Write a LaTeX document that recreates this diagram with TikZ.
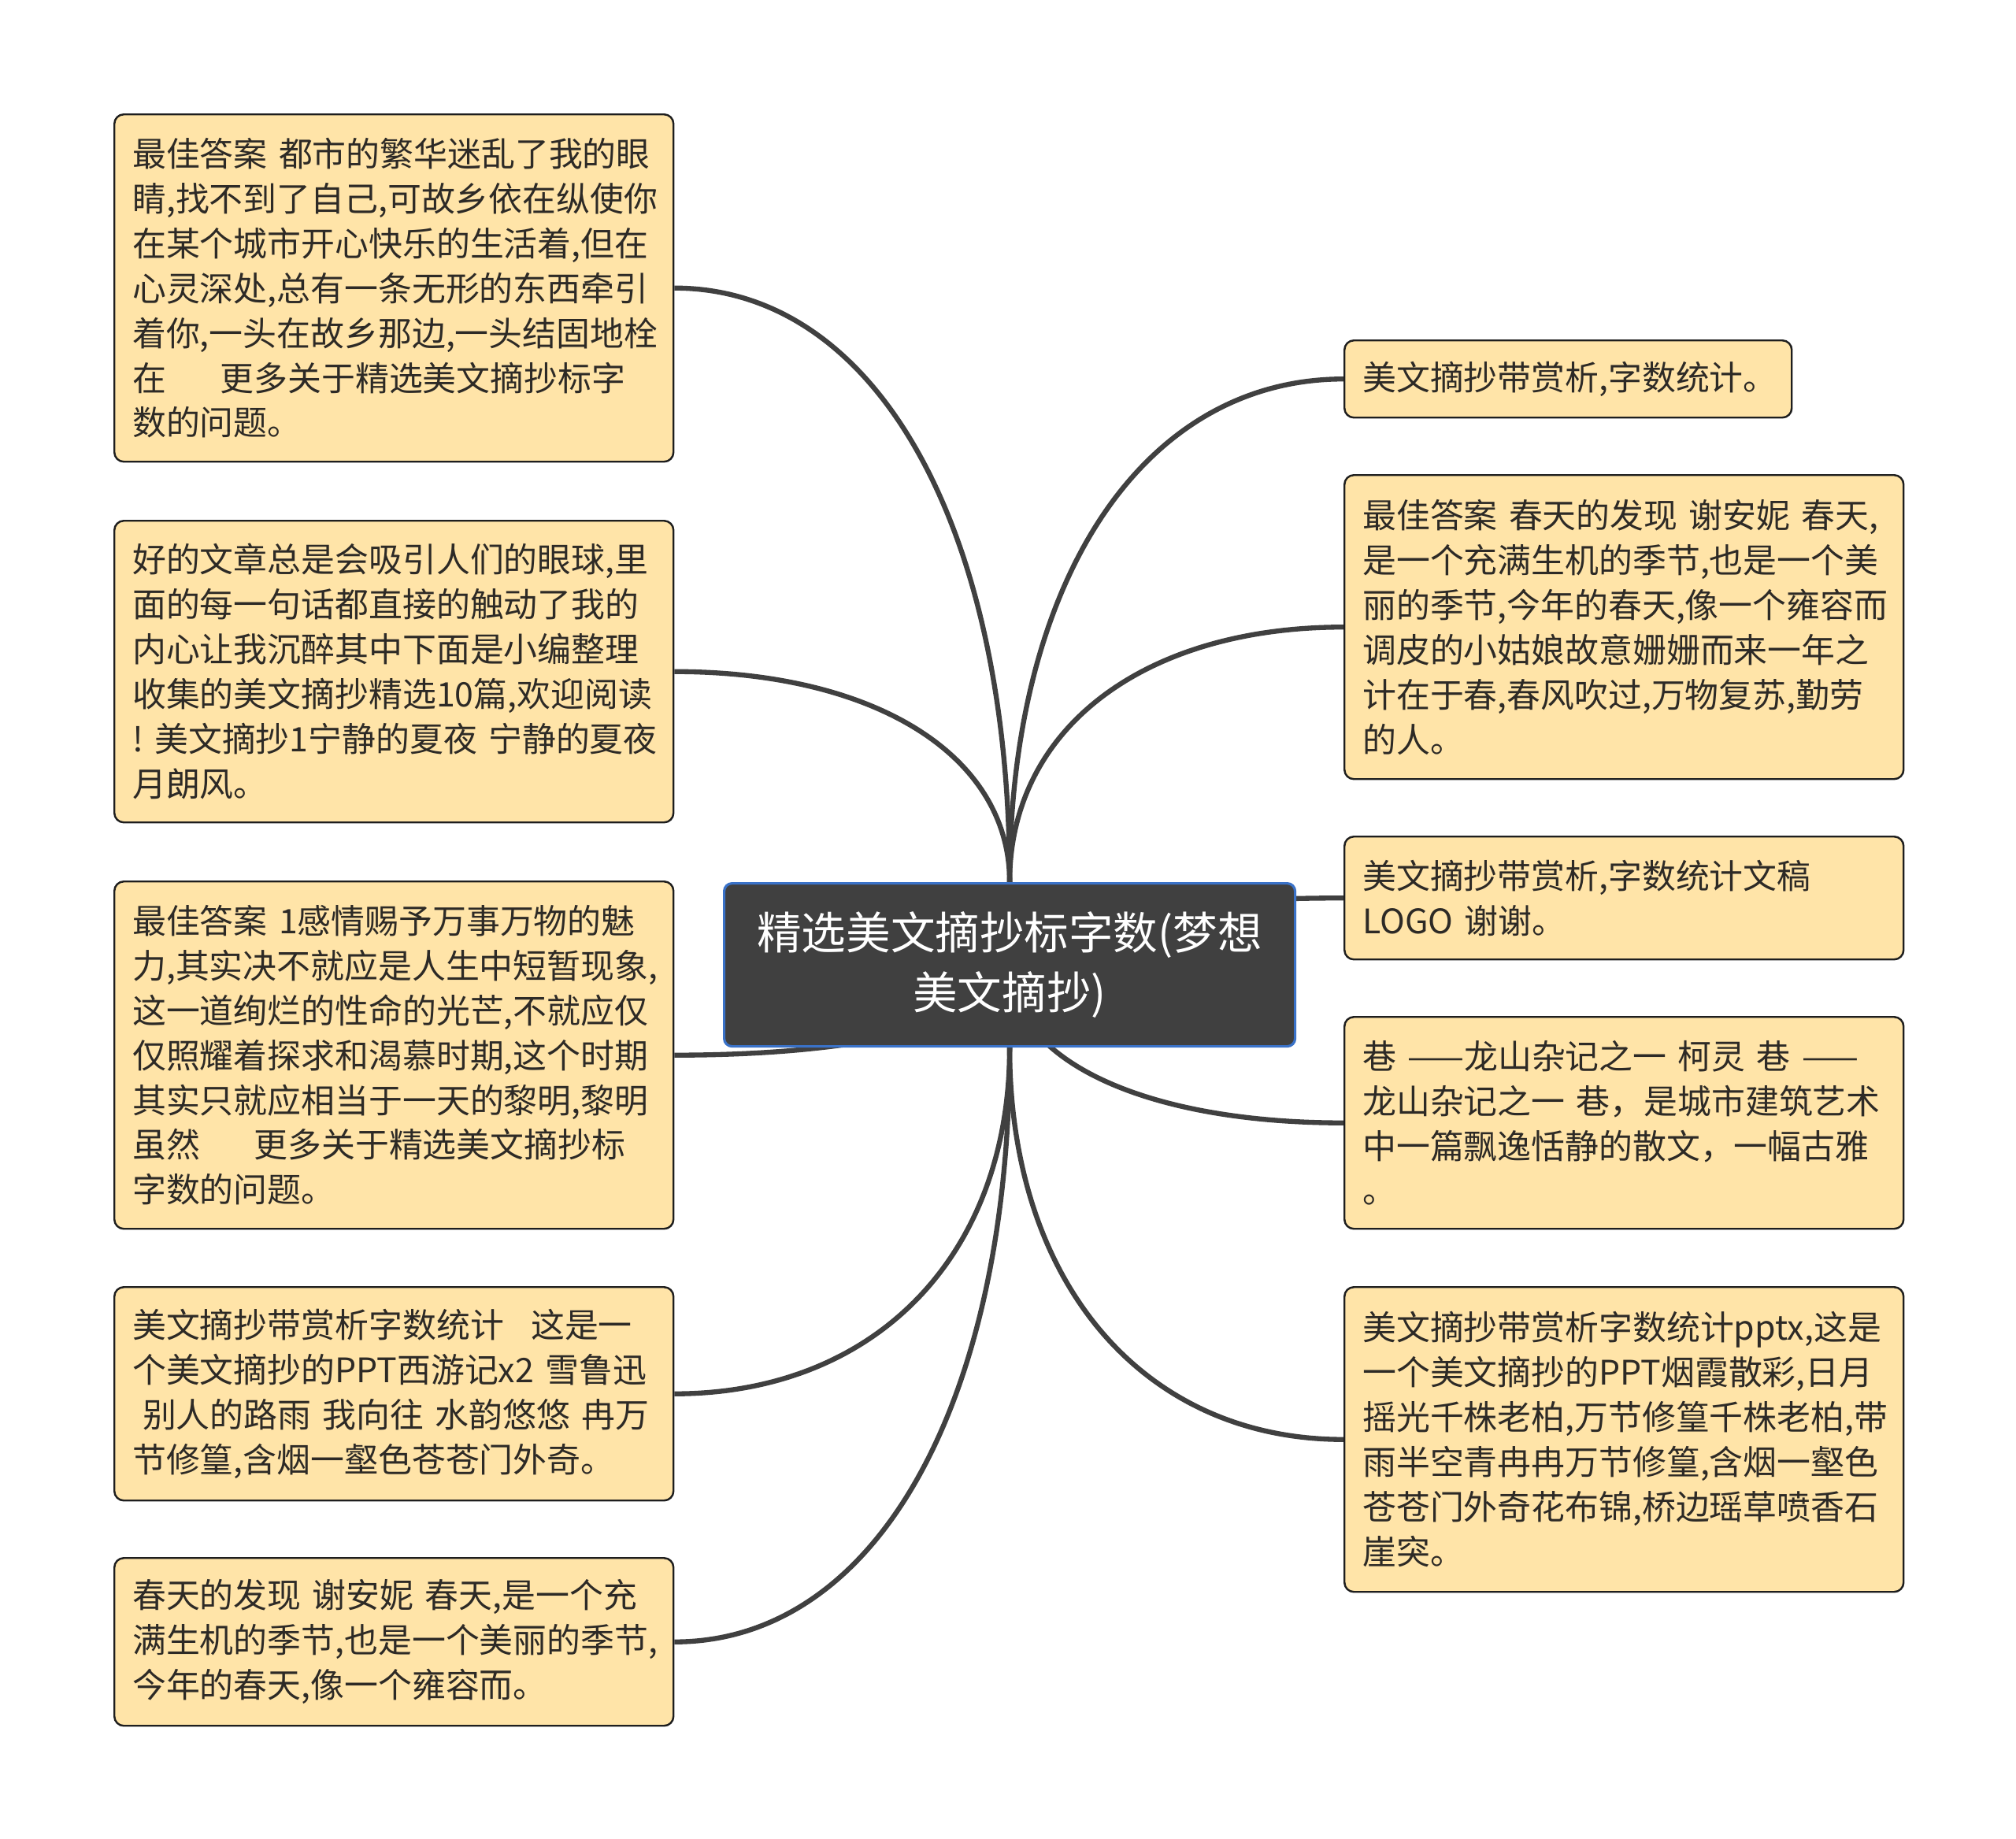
\documentclass[tikz,border=0pt]{standalone}
\usepackage{fontspec}
\setmainfont{Noto Sans CJK SC}
\usepackage{tikz}
\usetikzlibrary{calc}
\usetikzlibrary{backgrounds}
\definecolor{leaffill}{RGB}{255,228,168}
\definecolor{leafline}{RGB}{30,30,30}
\definecolor{leaftext}{RGB}{45,42,38}
\definecolor{rootfill}{RGB}{64,64,64}
\definecolor{rootline}{RGB}{58,114,200}
\definecolor{branchcol}{RGB}{64,64,64}
\tikzstyle{leaf} = [rectangle, rounded corners=0.12cm, draw=leafline, line width=0.7pt, fill=leaffill, text=leaftext, anchor=north west, align=left, text width=6.64cm, inner xsep=0.23cm, inner ysep=0pt, font=\fontsize{12.2}{16.2}\selectfont]
\tikzstyle{root} = [rectangle, rounded corners=0.1cm, draw=rootline, line width=0.9pt, fill=rootfill, text=white, anchor=north west, align=center, minimum width=7.25cm, minimum height=2.07cm, font=\fontsize{16.1}{21.6}\selectfont]
\tikzstyle{branch} = [line width=1.8pt, draw=branchcol]

\begin{document}
\begin{tikzpicture}
    \useasboundingbox (0,0) rectangle (25.6,-23.35);

    \node[root] (root) at (9.18,-11.20) {精选美文摘抄标字数(梦想\\美文摘抄)};

    %% left side
    \node[leaf, minimum height=4.41cm] (l1) at (1.44,-1.44) {最佳答案~都市的繁华迷乱了我的眼\\睛,找不到了自己,可故乡依在纵使你\\在某个城市开心快乐的生活着,但在\\心灵深处,总有一条无形的东西牵引\\着你,一头在故乡那边,一头结固地栓\\在\hspace{1.6em}更多关于精选美文摘抄标字\\数的问题。};
    \node[leaf, minimum height=3.83cm] (l2) at (1.44,-6.60) {好的文章总是会吸引人们的眼球,里\\面的每一句话都直接的触动了我的\\内心让我沉醉其中下面是小编整理\\收集的美文摘抄精选10篇,欢迎阅读\\!~美文摘抄1宁静的夏夜~宁静的夏夜\\月朗风。};
    \node[leaf, minimum height=4.41cm] (l3) at (1.44,-11.18) {最佳答案~1感情赐予万事万物的魅\\力,其实决不就应是人生中短暂现象,\\这一道绚烂的性命的光芒,不就应仅\\仅照耀着探求和渴慕时期,这个时期\\其实只就应相当于一天的黎明,黎明\\虽然\hspace{1.6em}更多关于精选美文摘抄标\\字数的问题。};
    \node[leaf, minimum height=2.71cm] (l4) at (1.44,-16.33) {美文摘抄带赏析字数统计\hspace{0.8em}这是一\\个美文摘抄的PPT西游记x2~雪鲁迅\\\hspace*{0.3em}别人的路雨~我向往~水韵悠悠~冉万\\节修篁,含烟一壑色苍苍门外奇。};
    \node[leaf, minimum height=2.13cm] (l5) at (1.44,-19.77) {春天的发现~谢安妮~春天,是一个充\\满生机的季节,也是一个美丽的季节,\\今年的春天,像一个雍容而。};

    %% right side
    \node[leaf, minimum height=0.98cm, text width=5.22cm] (r1) at (17.06,-4.31) {美文摘抄带赏析,字数统计。};
    \node[leaf, minimum height=3.86cm] (r2) at (17.06,-6.02) {最佳答案~春天的发现~谢安妮~春天,\\是一个充满生机的季节,也是一个美\\丽的季节,今年的春天,像一个雍容而\\调皮的小姑娘故意姗姗而来一年之\\计在于春,春风吹过,万物复苏,勤劳\\的人。};
    \node[leaf, minimum height=1.56cm] (r3) at (17.06,-10.61) {美文摘抄带赏析,字数统计文稿\\LOGO~谢谢。};
    \node[leaf, minimum height=2.69cm] (r4) at (17.06,-12.90) {巷~——龙山杂记之一~柯灵~巷~——\\龙山杂记之一~巷，是城市建筑艺术\\中一篇飘逸恬静的散文，一幅古雅\\。};
    \node[leaf, minimum height=3.87cm] (r5) at (17.06,-16.33) {美文摘抄带赏析字数统计pptx,这是\\一个美文摘抄的PPT烟霞散彩,日月\\摇光千株老柏,万节修篁千株老柏,带\\雨半空青冉冉万节修篁,含烟一壑色\\苍苍门外奇花布锦,桥边瑶草喷香石\\崖突。};

    \begin{scope}[on background layer]
    %% branches going up
    \draw[branch] (root.north) .. controls ($(root.north)!0.6!(root.north |- l1.east)$) and ($(l1.east)!0.6!(root.north |- l1.east)$) .. (l1.east);
    \draw[branch] (root.north) .. controls ($(root.north)!0.6!(root.north |- l2.east)$) and ($(l2.east)!0.6!(root.north |- l2.east)$) .. (l2.east);
    \draw[branch] (root.north) .. controls ($(root.north)!0.6!(root.north |- r1.west)$) and ($(r1.west)!0.6!(root.north |- r1.west)$) .. (r1.west);
    \draw[branch] (root.north) .. controls ($(root.north)!0.6!(root.north |- r2.west)$) and ($(r2.west)!0.6!(root.north |- r2.west)$) .. (r2.west);
    %% branches from the middle
    \draw[branch] (root.center) .. controls ($(root.center)!0.6!(root.center |- l3.east)$) and ($(l3.east)!0.6!(root.center |- l3.east)$) .. (l3.east);
    \draw[branch] (root.center) .. controls ($(root.center)!0.6!(root.center |- r3.west)$) and ($(r3.west)!0.6!(root.center |- r3.west)$) .. (r3.west);
    \draw[branch] (root.center) .. controls ($(root.center)!0.6!(root.center |- r4.west)$) and ($(r4.west)!0.6!(root.center |- r4.west)$) .. (r4.west);
    %% branches going down
    \draw[branch] (root.south) .. controls ($(root.south)!0.6!(root.south |- l4.east)$) and ($(l4.east)!0.6!(root.south |- l4.east)$) .. (l4.east);
    \draw[branch] (root.south) .. controls ($(root.south)!0.6!(root.south |- l5.east)$) and ($(l5.east)!0.6!(root.south |- l5.east)$) .. (l5.east);
    \draw[branch] (root.south) .. controls ($(root.south)!0.6!(root.south |- r5.west)$) and ($(r5.west)!0.6!(root.south |- r5.west)$) .. (r5.west);
    \end{scope}
\end{tikzpicture}
\end{document}
